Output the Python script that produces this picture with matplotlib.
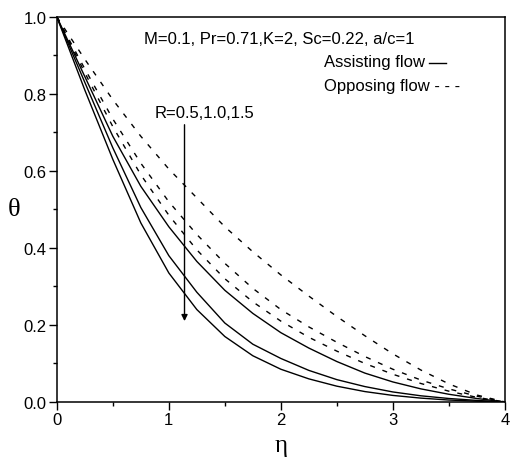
import numpy as np
import matplotlib.pyplot as plt

plt.rcParams["font.family"] = ["Liberation Sans", "DejaVu Sans"]

# eta grid and temperature profiles
eta = [0, 0.25, 0.5, 0.75, 1.0, 1.25, 1.5, 1.75, 2.0, 2.25, 2.5, 2.75, 3.0, 3.25, 3.5, 3.75, 4.0]

# assisting flow (solid lines), R = 1.5, 1.0, 0.5 from bottom to top
assist_r15 = [1, 0.81, 0.63, 0.465, 0.335, 0.24, 0.17, 0.12, 0.085, 0.06, 0.041, 0.027, 0.017, 0.01, 0.005, 0.002, 0]
assist_r10 = [1, 0.83, 0.66, 0.505, 0.38, 0.285, 0.205, 0.15, 0.113, 0.082, 0.058, 0.04, 0.026, 0.016, 0.009, 0.004, 0]
assist_r05 = [1, 0.845, 0.69, 0.56, 0.455, 0.365, 0.29, 0.23, 0.18, 0.14, 0.105, 0.075, 0.052, 0.034, 0.02, 0.009, 0]

# opposing flow (dashed lines)
oppose_r15 = [1, 0.855, 0.715, 0.59, 0.485, 0.395, 0.32, 0.26, 0.21, 0.168, 0.132, 0.1, 0.072, 0.048, 0.028, 0.012, 0]
oppose_r10 = [1, 0.865, 0.735, 0.62, 0.52, 0.435, 0.36, 0.295, 0.24, 0.195, 0.155, 0.118, 0.085, 0.057, 0.034, 0.015, 0]
oppose_r05 = [1, 0.89, 0.785, 0.69, 0.605, 0.53, 0.455, 0.39, 0.33, 0.275, 0.222, 0.172, 0.125, 0.083, 0.047, 0.018, 0]

params = "M=0.1, Pr=0.71,K=2, Sc=0.22, a/c=1"
r_label = "R=0.5,1.0,1.5"

dash = (3.6, 5.8)

fig = plt.figure(figsize=(5.12, 4.6), dpi=100)
ax = fig.add_axes([0.111, 0.124, 0.875, 0.837])

for y in [assist_r15, assist_r10, assist_r05]:
    ax.plot(eta, y, color="black", linewidth=1.0)
for y in [oppose_r15, oppose_r10, oppose_r05]:
    ax.plot(eta, y, color="black", linewidth=1.0, linestyle=(0, dash))

ax.set_xlim(0, 4)
ax.set_ylim(0, 1.0)
ax.set_xticks([0, 1, 2, 3, 4])
ax.set_xticks(np.arange(0, 4.01, 0.5), minor=True)
ax.set_yticks([0.0, 0.2, 0.4, 0.6, 0.8, 1.0])
ax.set_yticks(np.arange(0, 1.01, 0.1), minor=True)
ax.yaxis.set_major_formatter(plt.FormatStrFormatter("%.1f"))
ax.tick_params(which="major", direction="out", length=5.5, width=1, labelsize=12, pad=2)
ax.tick_params(which="minor", direction="out", length=3, width=1)
for s in ax.spines.values():
    s.set_linewidth(1.1)

ax.set_xlabel("η", family=["Liberation Serif", "DejaVu Serif"], fontsize=18, va="center")
ax.xaxis.set_label_coords(0.5, -0.112)
ax.set_ylabel("θ", family=["Liberation Serif", "DejaVu Serif"], fontsize=19, rotation=0,
              va="center", ha="center")
ax.yaxis.set_label_coords(-0.095, 0.5)

ax.text(0.194, 0.943, params, transform=ax.transAxes, fontsize=12, va="center", ha="left")
ax.text(0.219, 0.753, r_label, transform=ax.transAxes, fontsize=12, va="center", ha="left")

# legend drawn as text with a line sample after it
ax.text(0.596, 0.883, "Assisting flow", transform=ax.transAxes, fontsize=12, va="center", ha="left")
ax.plot([0.830, 0.868], [0.881, 0.881], color="black", linewidth=1.0, transform=ax.transAxes)
ax.text(0.596, 0.823, "Opposing flow - - -", transform=ax.transAxes, fontsize=12, va="center", ha="left")

ax.annotate("", xy=(1.14, 0.21), xytext=(1.14, 0.72),
            arrowprops=dict(arrowstyle="-|>", color="black", lw=1.0,
                            mutation_scale=9, shrinkA=0, shrinkB=0))

fig.savefig("out.png", dpi=100)
